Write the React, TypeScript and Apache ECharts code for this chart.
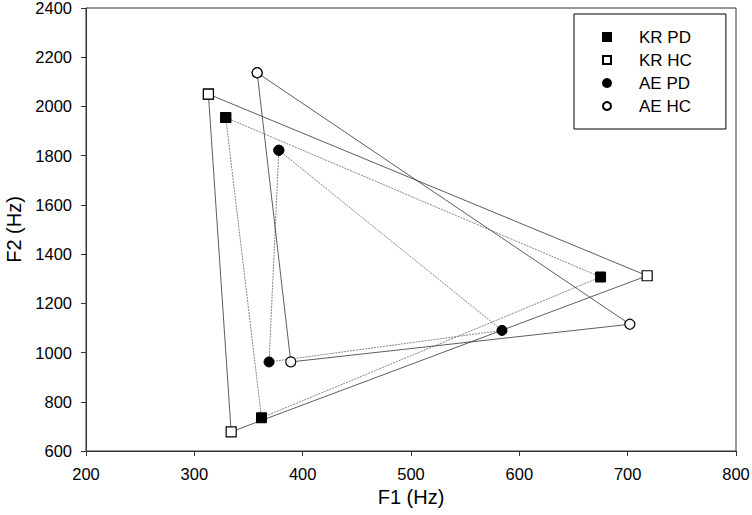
import React, { useEffect, useRef } from "react";
import * as echarts from "echarts";

const seriesNames = ["KR PD", "KR HC", "AE PD", "AE HC"];
const krPD: number[][] = [[329, 1955], [675, 1307], [362, 735]];
const krHC: number[][] = [[313, 2050], [718, 1312], [334, 678]];
const aePD: number[][] = [[378, 1822], [584, 1090], [369, 962]];
const aeHC: number[][] = [[358, 2137], [702, 1115], [389, 962]];
const xTicks = { min: 200, max: 800, interval: 100 };
const yTicks = { min: 600, max: 2400, interval: 200 };

const FONT = 'Arial, "Liberation Sans", sans-serif';

const closeLoop = (pts: number[][]) => [...pts, pts[0]];

export default function App() {
  const ref = useRef<HTMLDivElement>(null);
  useEffect(() => {
    if (!ref.current) return;
    const chart = echarts.init(ref.current, null, { renderer: "svg" });
    const mk = (
      name: string,
      data: number[][],
      symbol: string,
      filled: boolean,
      dotted: boolean
    ) => ({
      name,
      type: "line",
      data: closeLoop(data),
      symbol,
      symbolSize: 10,
      showAllSymbol: true,
      itemStyle: filled
        ? { color: "#000", borderColor: "#000", borderWidth: 1 }
        : { color: "#fff", borderColor: "#000", borderWidth: 1.2 },
      lineStyle: {
        color: dotted ? "#666" : "#333",
        width: 0.8,
        type: dotted ? [2, 1] : "solid",
      },
      emphasis: { disabled: true },
    });
    chart.setOption({
      animation: false,
      textStyle: { fontFamily: FONT },
      grid: {
        left: 86,
        right: 16,
        top: 8,
        bottom: 64,
        containLabel: false,
        outerBoundsMode: "none",
        show: true,
        borderColor: "#333",
        borderWidth: 1,
        backgroundColor: "transparent",
      },
      legend: {
        orient: "vertical",
        left: 574,
        top: 14,
        padding: [13, 34, 13, 28],
        borderColor: "#000",
        borderWidth: 1,
        itemWidth: 8,
        itemHeight: 8,
        itemGap: 3,
        selectedMode: false,
        textStyle: {
          fontSize: 17,
          color: "#000",
          fontFamily: FONT,
          lineHeight: 20,
          padding: [0, 0, 0, 23],
        },
        data: [
          { name: seriesNames[0], icon: "rect" },
          { name: seriesNames[1], icon: "rect" },
          { name: seriesNames[2], icon: "circle" },
          { name: seriesNames[3], icon: "circle" },
        ],
      },
      xAxis: {
        type: "value",
        min: xTicks.min,
        max: xTicks.max,
        interval: xTicks.interval,
        name: "F1 (Hz)",
        nameLocation: "middle",
        nameGap: 36,
        nameTextStyle: { fontSize: 20, color: "#000", fontFamily: FONT },
        axisLine: { show: true, lineStyle: { color: "#333", width: 1 } },
        axisTick: { show: true, inside: false, length: 5, lineStyle: { color: "#333" } },
        axisLabel: {
          fontSize: 16.5,
          color: "#000",
          margin: 14,
          fontFamily: FONT,
          formatter: (v: number) => String(v),
        },
        splitLine: { show: false },
      },
      yAxis: {
        type: "value",
        min: yTicks.min,
        max: yTicks.max,
        interval: yTicks.interval,
        name: "F2 (Hz)",
        nameLocation: "middle",
        nameGap: 60,
        nameTextStyle: { fontSize: 20, color: "#000", fontFamily: FONT },
        axisLine: { show: true, lineStyle: { color: "#333", width: 1 } },
        axisTick: { show: true, inside: false, length: 5, lineStyle: { color: "#333" } },
        axisLabel: {
          fontSize: 16.5,
          color: "#000",
          margin: 14,
          fontFamily: FONT,
          formatter: (v: number) => String(v),
        },
        splitLine: { show: false },
      },
      series: [
        mk(seriesNames[0], krPD, "rect", true, true),
        mk(seriesNames[1], krHC, "rect", false, false),
        mk(seriesNames[2], aePD, "circle", true, true),
        mk(seriesNames[3], aeHC, "circle", false, false),
      ],
    });
    return () => chart.dispose();
  }, []);
  return (
    <div
      ref={ref}
      style={{ position: "absolute", left: 0, top: 0, width: 752, height: 515 }}
    />
  );
}
